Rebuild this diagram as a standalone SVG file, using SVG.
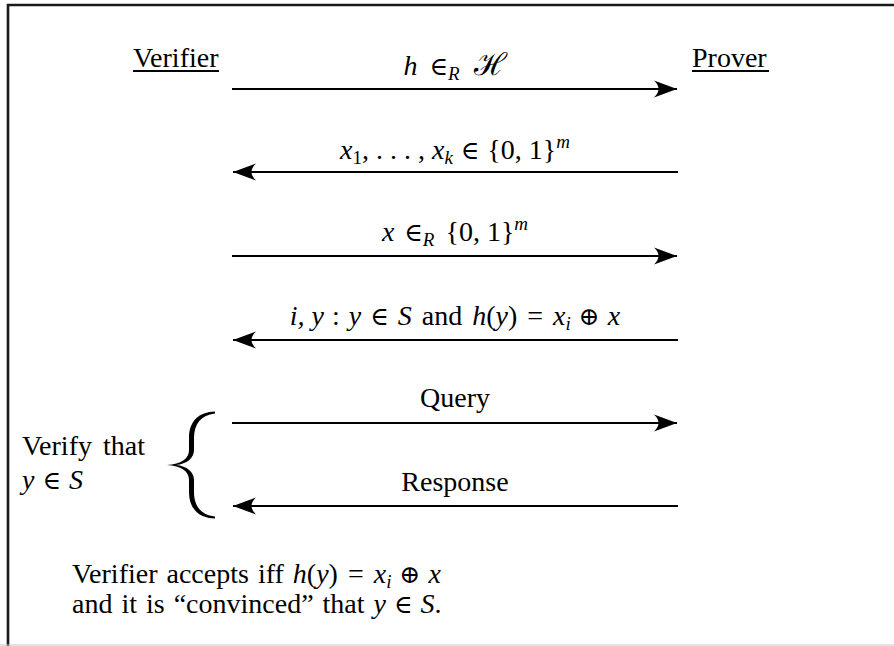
<svg xmlns="http://www.w3.org/2000/svg" width="894" height="646" viewBox="0 0 894 646">
<defs>
<style>
text{font-family:"Liberation Serif","DejaVu Serif",serif;font-size:28px;fill:#000}
.c{text-anchor:middle}
.m{font-style:italic}
.s{font-size:19px}
.sym{font-family:"DejaVu Serif","Liberation Serif",serif;font-style:normal;font-size:25px}
.cal{font-family:"DejaVu Serif","Liberation Serif",serif;font-style:normal;font-size:31px}
.arrow{stroke:#000;stroke-width:2;fill:none}
.r{marker-end:url(#head)}
.l{marker-start:url(#headL)}
</style>
<marker id="head" markerUnits="userSpaceOnUse" markerWidth="30" markerHeight="20" viewBox="-24 -10 26 20" refX="0" refY="0" orient="auto" overflow="visible">
<path d="M0,0 L-23,-8.5 Q-14,0 -23,8.5 Z" fill="#000"/>
</marker>
<marker id="headL" markerUnits="userSpaceOnUse" markerWidth="30" markerHeight="20" viewBox="-2 -10 26 20" refX="0" refY="0" orient="auto" overflow="visible">
<path d="M0,0 L23,-8.5 Q14,0 23,8.5 Z" fill="#000"/>
</marker>
</defs>
<rect width="894" height="646" fill="#fff"/>
<path d="M8,646 V5 H894" fill="none" stroke="#1a1a1a" stroke-width="2.6"/>
<line x1="0" y1="645" x2="894" y2="645" stroke="#c8c8c8" stroke-width="1.2"/>

<g id="verifier">
<text x="133" y="67">Verifier</text>
<line x1="133" y1="71" x2="219" y2="71" stroke="#000" stroke-width="2"/>
</g>
<g id="prover">
<text x="692" y="67">Prover</text>
<line x1="692" y1="71" x2="769" y2="71" stroke="#000" stroke-width="2"/>
</g>

<g id="connectors">
<line class="arrow r" x1="232" y1="89" x2="677" y2="89"/>
<line class="arrow l" x1="233" y1="172" x2="678" y2="172"/>
<line class="arrow r" x1="232" y1="256" x2="677" y2="256"/>
<line class="arrow l" x1="233" y1="340" x2="678" y2="340"/>
<line class="arrow r" x1="232" y1="423" x2="677" y2="423"/>
<line class="arrow l" x1="233" y1="506" x2="678" y2="506"/>
</g>

<g id="labels">
<text id="lbl1" class="c" x="455" y="75"><tspan class="m">h</tspan><tspan class="sym" dx="12">∈</tspan><tspan class="m s" dy="5">R</tspan><tspan class="cal" dx="14" dy="-5">ℋ</tspan></text>
<text id="lbl2" class="c" x="455" y="159"><tspan class="m">x</tspan><tspan class="s" dy="5">1</tspan><tspan dy="-5">, . . . , </tspan><tspan class="m">x</tspan><tspan class="m s" dy="5">k</tspan><tspan class="sym" dx="8" dy="-5">∈</tspan><tspan dx="8">{0, 1}</tspan><tspan class="m s" dy="-11">m</tspan></text>
<text id="lbl3" class="c" x="455" y="241"><tspan class="m">x</tspan><tspan class="sym" dx="10">∈</tspan><tspan class="m s" dy="5">R</tspan><tspan dx="11" dy="-5">{0, 1}</tspan><tspan class="m s" dy="-11">m</tspan></text>
<text id="lbl4" class="c" x="455" y="325"><tspan class="m">i, y</tspan><tspan dx="8">:</tspan><tspan class="m" dx="9">y</tspan><tspan class="sym" dx="9">∈</tspan><tspan class="m" dx="9">S</tspan><tspan dx="10">and</tspan><tspan class="m" dx="10">h</tspan>(<tspan class="m">y</tspan>)<tspan dx="10">=</tspan><tspan class="m" dx="10">x</tspan><tspan class="m s" dy="5">i</tspan><tspan class="sym" dx="8" dy="-5">⊕</tspan><tspan class="m" dx="8">x</tspan></text>
<text id="lbl5" class="c" x="455" y="407">Query</text>
<text id="lbl6" class="c" x="455" y="491">Response</text>
</g>

<g id="verify-note">
<text x="22" y="455" word-spacing="4">Verify that</text>
<text x="22" y="489"><tspan class="m">y</tspan><tspan class="sym" dx="8">∈</tspan><tspan class="m" dx="8">S</tspan></text>
<path d="M215,411.5 C199,412 189,421 189,438 L189,450 C189,459 181,464 167,465 C181,466 189,471 189,480 L189,492 C189,509 199,518 215,518.5 L215,516.5 C201,515 194,506 194,492 L194,480 C194,472 187,466 176,465 C187,464 194,458 194,450 L194,438 C194,424 201,415 215,413.5 Z" fill="#000"/>
</g>

<g id="conclusion">
<text x="72" y="583" word-spacing="2">Verifier accepts iff <tspan class="m">h</tspan>(<tspan class="m">y</tspan>)<tspan dx="10">=</tspan><tspan class="m" dx="10">x</tspan><tspan class="m s" dy="5">i</tspan><tspan class="sym" dx="8" dy="-5">⊕</tspan><tspan class="m" dx="8">x</tspan></text>
<text x="72" y="613" word-spacing="2">and it is “convinced” that <tspan class="m">y</tspan><tspan class="sym" dx="8">∈</tspan><tspan class="m" dx="8">S</tspan>.</text>
</g>
</svg>
